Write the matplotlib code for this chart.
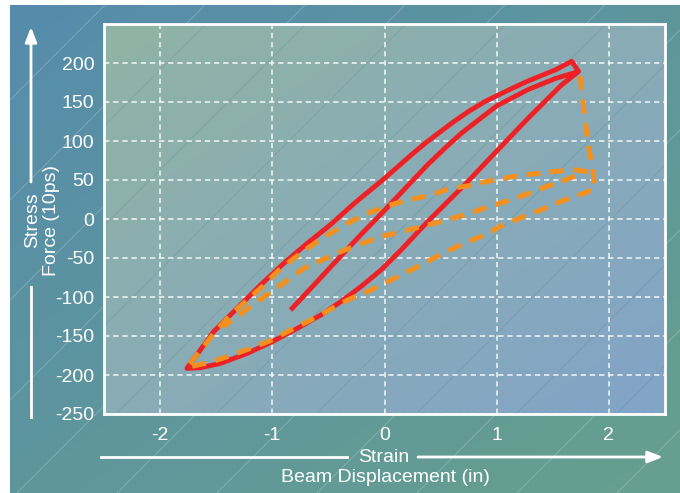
import numpy as np
import matplotlib
matplotlib.use("Agg")
import matplotlib.pyplot as plt
from matplotlib.patches import Rectangle

plt.rcParams['font.family'] = ['Liberation Sans', 'DejaVu Sans']
plt.rcParams['axes.unicode_minus'] = False

# ---------------- data ----------------
# red loop: start -> middle branch -> corner -> lower branch -> lower-left tip -> upper branch -> top tip -> corner
red_x = [-0.837, -0.628, -0.419, -0.21, 0.0, 0.088, 0.387, 0.54, 0.685, 1.0, 1.28, 1.52, 1.729,
         1.579, 1.281, 0.983, 0.714, 0.387, 0.148, -0.031, -0.21, -0.389, -0.568, -0.777,
         -1.0, -1.224, -1.463, -1.642, -1.761,
         -1.523, -1.314, -1.105, -0.897, -0.687, -0.479, -0.27, 0.0, 0.237, 0.37, 0.6,
         0.75, 0.9, 1.13, 1.28, 1.52, 1.669, 1.729]
red_y = [-116.7, -84.5, -52, -20, 11, 24.5, 70, 91, 110, 145, 166, 180, 189,
         172, 129.4, 84.5, 43.8, -3, -39.7, -65.3, -86.7, -105.9, -123.1, -140.2,
         -157.3, -172.3, -185.1, -190.7, -191.5,
         -144.4, -114.5, -84.6, -56.7, -31, -7, 20, 52, 82, 98, 123,
         138, 151, 167, 177, 191, 202.2, 189]

# orange dashed loop
orange_x = [1.743, 1.788, 1.818, 1.848, 1.875,
            1.76, 1.58, 1.4, 1.22, 1.04, 0.88, 0.7, 0.52, 0.35, 0.208, 0.029, -0.15, -0.329,
            -0.494, -0.658, -0.837, -1.0, -1.179, -1.358, -1.537, -1.732, -1.76,
            -1.508, -1.374, -1.224, -1.09, -0.956, -0.807, -0.643, -0.508, -0.329, -0.15,
            0.029, 0.208, 0.4, 0.565, 0.76, 0.953, 1.13, 1.326, 1.52, 1.699, 1.79,
            1.63, 1.45, 1.27, 1.09, 0.91, 0.73, 0.55, 0.35, 0.163, -0.031, -0.195, -0.374,
            -0.553, -0.718, -0.881, -1.031, -1.179, -1.33, -1.44]
orange_y = [183, 127, 93, 71.6, 39,
            32, 23, 12, 2, -9, -21, -32, -44, -57, -67.4, -80.2, -93.1, -103.8,
            -116.7, -129.5, -142.3, -155, -165, -174.4, -183, -189.4, -190,
            -144.4, -123, -103.8, -86.7, -67.4, -50.3, -33.2, -20.4, -5.4, 7.4,
            17, 24.5, 30, 38.3, 43, 49.4, 54, 57.9, 61, 63, 61,
            51, 42, 32, 23, 15, 6, -1.5, -9, -16, -22.5, -31.1, -40.9,
            -52.5, -63.2, -80.2, -95.3, -110.3, -127, -138]

x_ticks = [-2, -1, 0, 1, 2]
y_ticks = [-250, -200, -150, -100, -50, 0, 50, 100, 150, 200]

# ---------------- figure ----------------
W, H = 680, 493
fig = plt.figure(figsize=(W / 100, H / 100), dpi=100, facecolor='white')

# background axes in pixel coordinates
bg = fig.add_axes([0, 0, 1, 1])
bg.set_xlim(0, W)
bg.set_ylim(H, 0)
bg.axis('off')

def grad(c1, c2, n=200):
    yy, xx = np.mgrid[0:1:n * 1j, 0:1:n * 1j]
    t = (xx + yy) / 2.0
    c1 = np.array(c1) / 255.0
    c2 = np.array(c2) / 255.0
    return c1[None, None, :] * (1 - t[..., None]) + c2[None, None, :] * t[..., None]

# outer background
bg.imshow(grad((86, 140, 172), (103, 160, 142)), extent=(10, W, H, 5),
          aspect='auto', zorder=0, interpolation='bilinear')

# plot area geometry in pixels
L, T, R, B = 104, 24, 665, 414
bg.imshow(grad((144, 180, 164), (130, 164, 200)), extent=(L, R, B, T),
          aspect='auto', zorder=1, interpolation='bilinear')

# diagonal decorative lines
clip_outer = Rectangle((10, 5), W - 10, H - 5, transform=bg.transData)
clip_inner = Rectangle((L, T), R - L, B - T, transform=bg.transData)
for c in np.arange(110, W + H + 200, 100):
    xs = np.array([c - H - 50, c + 50])
    ys = c - xs
    ln, = bg.plot(xs, ys, color='white', lw=0.6, alpha=0.25, zorder=0.5)
    ln.set_clip_path(clip_outer)
    ln2, = bg.plot(xs + 20, ys, color='#3a6a70', lw=0.6, alpha=0.18, zorder=1.5)
    ln2.set_clip_path(clip_inner)

# main axes
ax = fig.add_axes([L / W, 1 - B / H, (R - L) / W, (B - T) / H])
ax.set_facecolor('none')
ax.set_xlim(-2.5, 2.5)
ax.set_ylim(-250, 250)
ax.set_xticks(x_ticks)
ax.set_yticks(y_ticks)
ax.tick_params(length=0, colors='white', labelsize=14, pad=7)
ax.tick_params(axis='x', pad=9)
for s in ax.spines.values():
    s.set_color('white')
    s.set_linewidth(2)
ax.grid(True, color='white', lw=1.1, ls=(0, (3.5, 2.5)), alpha=0.9)
ax.set_axisbelow(True)

ax.plot(red_x, red_y, color='#ee2126', lw=3.5, solid_joinstyle='round',
        solid_capstyle='butt', zorder=3)
ax.plot(orange_x, orange_y, color='#f3901f', lw=3.6, dashes=(2.8, 1.9),
        dash_capstyle='butt', dash_joinstyle='round', zorder=4)

# axis labels with arrows (figure pixel coordinates)
def fx(x):
    return x / W

def fy(y):
    return 1 - y / H

fig.text(fx(33), fy(220), 'Stress', rotation=90, color='white', fontsize=14,
         ha='center', va='center')
fig.text(fx(52), fy(221), 'Force (10ps)', rotation=90, color='white', fontsize=14,
         ha='center', va='center')
fig.text(fx(384), fy(457), 'Strain', color='white', fontsize=14,
         ha='center', va='center')
fig.text(fx(385), fy(478), 'Beam Displacement (in)', color='white', fontsize=14,
         ha='center', va='center')

# vertical arrow
bg.plot([31, 31], [417, 287], color='white', lw=2, zorder=5)
bg.annotate('', xy=(31, 27), xytext=(31, 182),
            arrowprops=dict(arrowstyle='-|>,head_width=0.35,head_length=0.9',
                            color='white', lw=2, shrinkA=0, shrinkB=0), zorder=5)
# horizontal arrow
bg.plot([101, 347], [457, 457], color='white', lw=2, zorder=5)
bg.annotate('', xy=(663, 457), xytext=(418, 457),
            arrowprops=dict(arrowstyle='-|>,head_width=0.35,head_length=0.9',
                            color='white', lw=2, shrinkA=0, shrinkB=0), zorder=5)

fig.savefig('out.png', dpi=100, facecolor='white')
